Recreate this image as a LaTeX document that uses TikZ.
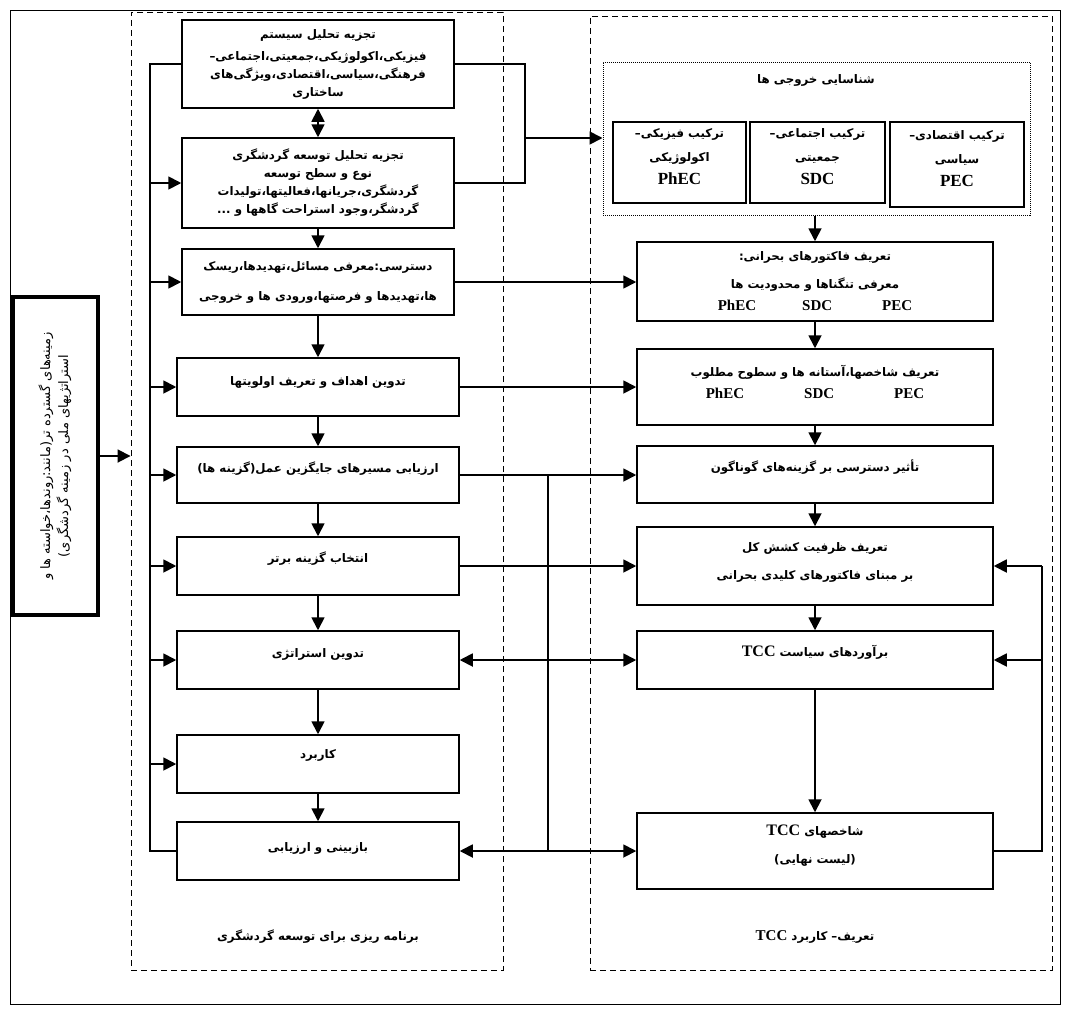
\documentclass[tikz,border=0pt]{standalone}
\usepackage{fontspec}
\setmainfont{Liberation Serif}
\newfontfamily\fa[Script=Arabic]{DejaVu Sans}
\usetikzlibrary{arrows.meta}
\TeXXeTstate=1
\newcommand\rl[1]{\beginR#1\endR}
\newcommand\lat[2][15]{{\rmfamily\bfseries\fontsize{#1}{18}\selectfont #2}}

\begin{document}
\begin{tikzpicture}[x=1pt,y=-1pt,
  font=\fa\bfseries\fontsize{11.8}{18}\selectfont,
  box/.style={draw,line width=1.5pt,inner sep=0pt,align=center},
  panel/.style={draw,line width=0.9pt,dash pattern=on 6pt off 4pt},
  ln/.style={line width=1.8pt},
  arr/.style={ln,-{Triangle[length=13pt,width=13pt]}},
  twin/.style={ln,{Triangle[length=13pt,width=13pt]}-{Triangle[length=13pt,width=13pt]}},
  raise/.style={text depth=#1}]
  \useasboundingbox (0,0) rectangle (1068,1017);
  \draw[line width=0.8pt] (10,10) rectangle (1060,1004);
  \node[panel,minimum width=372,minimum height=958] (lpanel) at (317,491) {};
  \node[panel,minimum width=462,minimum height=954] (rpanel) at (821,493) {};

  \node[box,line width=3.5pt,minimum width=85,minimum height=318,font=\fa\fontsize{13}{18}\selectfont] (ctx) at (55.5,456)
    {\rotatebox{90}{\begin{tabular}{c}\rl{زمینه‌های گسترده تر(مانند:روندها،خواسته ها و}\\\rl{استراتژیهای ملی در زمینه گردشگری)}\end{tabular}}};

  % left column
  \node[box,minimum width=272,minimum height=88] (L1) at (318,64)
    {\rl{تجزیه تحلیل سیستم}\\[4pt]\rl{فیزیکی،اکولوژیکی،جمعیتی،اجتماعی–}\\\rl{فرهنگی،سیاسی،اقتصادی،ویژگی‌های}\\\rl{ساختاری}};
  \node[box,minimum width=272,minimum height=90] (L2) at (318,183)
    {\rl{تجزیه تحلیل توسعه گردشگری}\\\rl{نوع و سطح توسعه}\\\rl{گردشگری،جریانها،فعالیتها،تولیدات}\\\rl{گردشگر،وجود استراحت گاهها و ...}};
  \node[box,minimum width=272,minimum height=66] (L3) at (318,282)
    {\rl{دسترسی:معرفی مسائل،تهدیدها،ریسک}\\[12pt]\rl{ها،تهدیدها و فرصتها،ورودی ها و خروجی}};
  \node[box,minimum width=282,minimum height=58,raise=12pt] (L4) at (318,387) {\rl{تدوین اهداف و تعریف اولویتها}};
  \node[box,minimum width=282,minimum height=56,raise=15pt] (L5) at (318,475) {\rl{ارزیابی مسیرهای جایگزین عمل(گزینه ها)}};
  \node[box,minimum width=282,minimum height=58,raise=17pt] (L6) at (318,566) {\rl{انتخاب گزینه برتر}};
  \node[box,minimum width=282,minimum height=58,raise=13pt] (L7) at (318,660) {\rl{تدوین استراتژی}};
  \node[box,minimum width=282,minimum height=58,raise=19pt] (L8) at (318,764) {\rl{کاربرد}};
  \node[box,minimum width=282,minimum height=58,raise=7pt] (L9) at (318,851) {\rl{بازبینی و ارزیابی}};
  \node (ltitle) at (318,937) {\rl{برنامه ریزی برای توسعه گردشگری}};

  % right column
  \node[draw,line width=1pt,densely dotted,minimum width=427,minimum height=153] (outs) at (816.5,138.5) {};
  \node (otitle) at (816,80) {\rl{شناسایی  خروجی ها}};
  \node[box,minimum width=133,minimum height=81,raise=12pt] (phec) at (679.5,162.5)
    {\rl{ترکیب فیزیکی–}\\[6pt]\rl{اکولوژیکی}\\[5pt]\lat[17]{PhEC}};
  \node[box,minimum width=135,minimum height=81,raise=12pt] (sdc) at (817.5,162.5)
    {\rl{ترکیب اجتماعی–}\\[6pt]\rl{جمعیتی}\\[5pt]\lat[17]{SDC}};
  \node[box,minimum width=134,minimum height=85,raise=12pt] (pec) at (957,164.5)
    {\rl{ترکیب اقتصادی–}\\[6pt]\rl{سیاسی}\\[5pt]\lat[17]{PEC}};

  \node[box,minimum width=356,minimum height=79] (R1) at (815,281.5)
    {\rl{تعریف فاکتورهای بحرانی:}\\[10pt]\rl{معرفی تنگناها و محدودیت ها}\\[4pt]\lat{PhEC}\hspace{46pt}\lat{SDC}\hspace{50pt}\lat{PEC}};
  \node[box,minimum width=356,minimum height=76,raise=10pt] (R2) at (815,387)
    {\rl{تعریف شاخصها،آستانه ها و سطوح مطلوب}\\[4pt]\lat{PhEC}\hspace{60pt}\lat{SDC}\hspace{60pt}\lat{PEC}};
  \node[box,minimum width=356,minimum height=57,raise=17pt] (R3) at (815,474.5) {\rl{تأثیر دسترسی بر گزینه‌های گوناگون}};
  \node[box,minimum width=356,minimum height=78,raise=9pt] (R4) at (815,566)
    {\rl{تعریف ظرفیت کشش کل}\\[10pt]\rl{بر مبنای فاکتورهای کلیدی بحرانی}};
  \node[box,minimum width=356,minimum height=58,raise=19pt] (R5) at (815,660) {\rl{برآوردهای سیاست \lat[16]{TCC}}};
  \node[box,minimum width=356,minimum height=76,raise=13pt] (R6) at (815,851)
    {\rl{شاخصهای \lat[16]{TCC}}\\[10pt]\rl{(لیست نهایی)}};
  \node (rtitle) at (815,937) {\rl{تعریف– کاربرد \lat{TCC}}};

  \coordinate (bt) at (150,64);
  \coordinate (bb) at (150,851);
  \coordinate (jr) at (525,138);
  \coordinate (ja) at (548,475);
  \coordinate (jb) at (548,851);
  \coordinate (rb) at (1042,851);
  \coordinate (rt) at (1042,566);

  \draw[arr] (ctx.east) -- (ctx.east -| lpanel.west);
  \draw[twin] (L1) -- (L2);
  \foreach \a/\b in {L2/L3,L3/L4,L4/L5,L5/L6,L6/L7,L7/L8,L8/L9,R1/R2,R2/R3,R3/R4,R4/R5,R5/R6}
    \draw[arr] (\a) -- (\b);
  \draw[ln] (L1.west) -- (bt) -- (bb) -- (L9.west);
  \foreach \n in {L2,L3,L4,L5,L6,L7,L8}
    \draw[arr] (bt |- \n.west) -- (\n.west);
  \draw[ln] (L1.east) -| (jr) |- (L2.east);
  \draw[arr] (jr) -- (jr -| outs.west);
  \draw[arr] (R1.north |- outs.south) -- (R1.north);
  \draw[arr] (L3.east) -- (L3.east -| R1.west);
  \draw[arr] (L4.east) -- (L4.east -| R2.west);
  \draw[arr] (L5.east) -- (L5.east -| R3.west);
  \draw[arr] (L6.east) -- (L6.east -| R4.west);
  \draw[twin] (L7.east) -- (L7.east -| R5.west);
  \draw[twin] (L9.east) -- (L9.east -| R6.west);
  \draw[ln] (ja) -- (jb);
  \draw[ln] (R6.east) -- (rb) -- (rt);
  \draw[arr] (rt) -- (R4.east);
  \draw[arr] (rt |- R5.east) -- (R5.east);
\end{tikzpicture}
\end{document}
